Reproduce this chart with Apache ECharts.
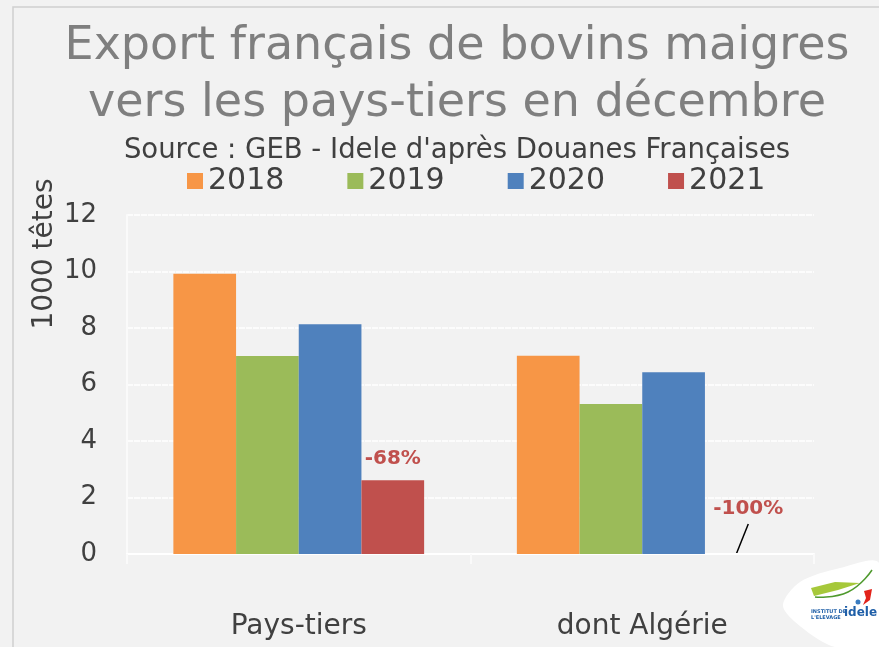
<!DOCTYPE html>
<html>
<head>
<meta charset="utf-8">
<script src="https://cdn.jsdelivr.net/npm/echarts@6/dist/echarts.min.js"></script>
<style>
  html, body { margin: 0; padding: 0; background: #f2f2f2; }
  #chart { width: 879px; height: 647px; }
</style>
</head>
<body>
<div id="chart"></div>
<script>
// données (1000 têtes)
var categories = ["Pays-tiers", "dont Algérie"];
var years = ["2018", "2019", "2020", "2021"];
var values2018 = [9.92, 7.02];
var values2019 = [7.01, 5.31];
var values2020 = [8.13, 6.43];
var values2021 = [2.61, 0];
var changeLabels = ["-68%", "-100%"];
var yTicks = [0, 2, 4, 6, 8, 10, 12];

var colors = ["#f79646", "#9bbb59", "#4f81bd", "#c0504d"];
var font = "DejaVu Sans";

var chart = echarts.init(document.getElementById("chart"));

var series = [values2018, values2019, values2020, values2021].map(function (vals, i) {
  var s = {
    name: years[i],
    type: "bar",
    barGap: "0%",
    barCategoryGap: "27%",
    itemStyle: { color: colors[i] },
    data: vals
  };
  if (i === 3) {
    s.data = vals.map(function (v, j) {
      var item = {
        value: v,
        label: {
          show: true,
          position: "top",
          formatter: changeLabels[j],
          color: "#c0504d",
          fontWeight: "bold",
          fontSize: 20,
          fontFamily: font,
          distance: 11
        }
      };
      if (v === 0) {
        item.label.offset = [12, -24];
      }
      return item;
    });
  }
  return s;
});

chart.setOption({
  backgroundColor: "#f2f2f2",
  title: [
    {
      text: "Export français de bovins maigres\nvers les pays-tiers en décembre",
      left: 452,
      textAlign: "center",
      top: 14,
      textStyle: {
        color: "#7f7f7f",
        fontSize: 46,
        fontWeight: "normal",
        fontFamily: font,
        lineHeight: 57
      }
    },
    {
      text: "Source : GEB - Idele d'après Douanes Françaises",
      left: 452,
      textAlign: "center",
      top: 132,
      textStyle: { color: "#404040", fontSize: 27.5, fontWeight: "normal", fontFamily: font }
    }
  ],
  legend: {
    data: years,
    top: 161,
    left: 182,
    itemWidth: 16,
    itemHeight: 16,
    itemGap: 63,
    icon: "rect",
    textStyle: { color: "#404040", fontSize: 30, fontFamily: font }
  },
  grid: { left: 127, right: 65, top: 215, bottom: 93 },
  xAxis: {
    type: "category",
    data: categories,
    axisLine: { lineStyle: { color: "#ffffff", width: 2 } },
    axisTick: { show: true, length: 10, lineStyle: { color: "#fafafa", width: 2 } },
    axisLabel: { color: "#404040", fontSize: 28, fontFamily: font, margin: 59 }
  },
  yAxis: {
    type: "value",
    min: yTicks[0],
    max: yTicks[yTicks.length - 1],
    interval: 2,
    axisLine: { show: true, lineStyle: { color: "#fafafa", width: 2 } },
    axisTick: { show: false },
    axisLabel: { color: "#404040", fontSize: 26, fontFamily: font, margin: 30 },
    splitLine: { lineStyle: { color: "#ffffff", width: 1.5, type: [6, 1] } }
  },
  graphic: [
    {
      id: "cadre",
      type: "rect",
      shape: { x: 13, y: 7, width: 900, height: 700 },
      style: { fill: "none", stroke: "#d0d0d0", lineWidth: 1.5 },
      silent: true
    },
    {
      id: "nomAxe",
      type: "text",
      x: 45,
      y: 254,
      rotation: Math.PI / 2,
      style: {
        text: "1000 têtes",
        fill: "#404040",
        font: "28px '" + font + "'",
        textAlign: "center",
        textVerticalAlign: "middle"
      }
    },
    {
      id: "logo",
      type: "group",
      silent: true,
      children: [
        {
          type: "polygon",
          shape: { points: [[783, 606], [800, 582], [840, 568], [879, 563], [879, 647], [835, 647], [805, 630]], smooth: 0.3 },
          style: { fill: "#ffffff" }
        },
        {
          type: "polygon",
          shape: { points: [[811, 588], [835, 582], [860, 583], [838, 590], [814, 596]] },
          style: { fill: "#a6c83a" }
        },
        {
          type: "polyline",
          shape: { points: [[815, 597], [848, 592], [872, 570]], smooth: 0.5 },
          style: { stroke: "#4f9a2e", lineWidth: 1.5 }
        },
        {
          type: "polygon",
          shape: { points: [[864, 591], [872, 589], [870, 600], [863, 605], [866, 598]] },
          style: { fill: "#e2231a" }
        },
        {
          type: "circle",
          shape: { cx: 858, cy: 602, r: 2.5 },
          style: { fill: "#3a7cc0" }
        },
        {
          type: "text",
          x: 811,
          y: 609,
          style: { text: "INSTITUT DE\nL'ELEVAGE", fill: "#1f5fa8", font: "bold 5px 'DejaVu Sans'", lineHeight: 6 }
        },
        {
          type: "text",
          x: 844,
          y: 607,
          style: { text: "idele", fill: "#1f5fa8", font: "bold 12px 'DejaVu Sans'" }
        }
      ]
    }
  ],
  series: series
});

// trait de rappel entre l'étiquette "-100%" et la barre vide (position prise dans la mise en page des barres)
var layout = chart.getModel().getSeriesByIndex(3).getData().getItemLayout(1);
var bx = layout.x + layout.width / 2;
var by = layout.y + layout.height;
chart.setOption({
  graphic: [{
    id: "rappel",
    type: "line",
    silent: true,
    shape: { x1: bx, y1: by, x2: bx + 12, y2: by - 30 },
    style: { stroke: "#000", lineWidth: 1.5 }
  }]
});
</script>
</body>
</html>
